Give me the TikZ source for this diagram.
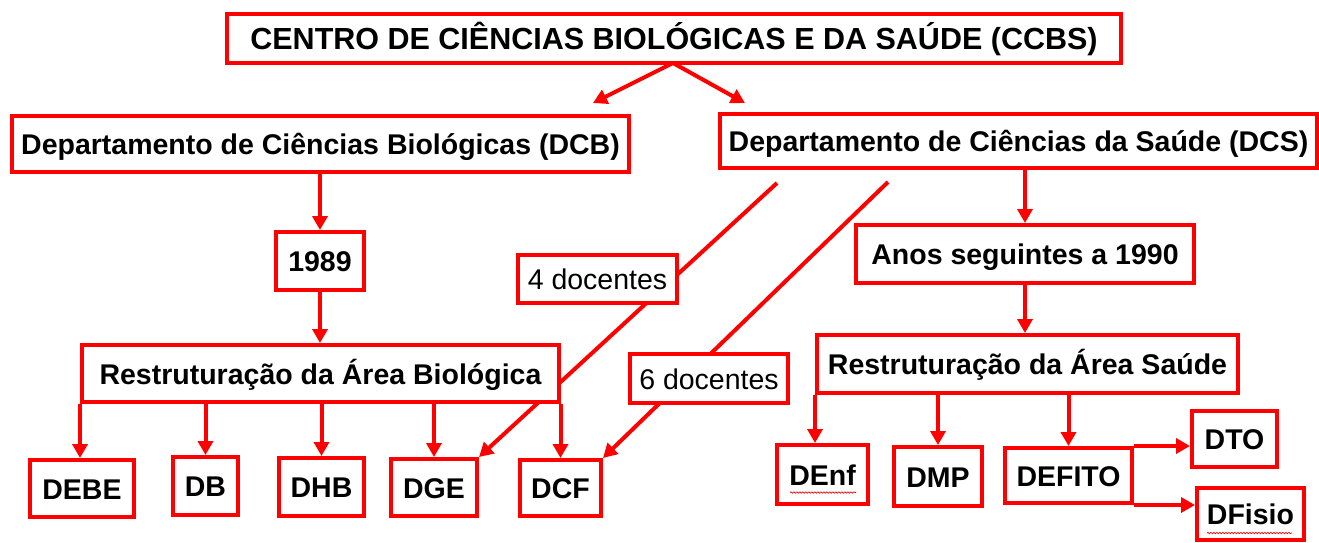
\documentclass[tikz,border=0pt]{standalone}
\usepackage{fontspec}
\setmainfont{Liberation Sans}
\usetikzlibrary{arrows.meta,decorations.pathmorphing}
\pgfdeclarelayer{bg}
\pgfsetlayers{bg,main}
\begin{document}
\begin{tikzpicture}[x=1pt,y=-1pt,
 box/.style={draw=red, line width=4pt, fill=white, inner sep=0pt,
   text height=25pt, text depth=4pt, font=\bfseries\fontsize{28.5}{32}\selectfont},
 titlebox/.style={box, text height=27pt, text depth=5pt, font=\bfseries\fontsize{30.5}{34}\selectfont},
 plainbox/.style={box, font=\fontsize{28.5}{32}\selectfont},
 link/.style={draw=red, line width=4pt, -{Triangle[length=14pt,width=15pt]}},
 squig/.style={draw=red, line width=0.7pt, decorate,
   decoration={snake, amplitude=0.7pt, segment length=3pt}}
]
\useasboundingbox (0,0) rectangle (1319,542);
% top
\node[titlebox, minimum width=894pt, minimum height=49pt] (T) at (674,38.5)
  {CENTRO DE CIÊNCIAS BIOLÓGICAS E DA SAÚDE (CCBS)};
\node[box, minimum width=617pt, minimum height=56pt] (DCB) at (320.5,144)
  {Departamento de Ciências Biológicas (DCB)};
\node[box, minimum width=597pt, minimum height=54pt] (DCS) at (1018.5,141)
  {Departamento de Ciências da Saúde (DCS)};
% biological branch
\node[box, minimum width=88pt, minimum height=58pt] (Y89) at (320,261) {1989};
\node[box, minimum width=477pt, minimum height=57pt] (RB) at (320.5,373.5)
  {Restruturação da Área Biológica};
\node[box, minimum width=104pt, minimum height=57pt] (DEBE) at (82,488.5) {DEBE};
\node[box, minimum width=65pt, minimum height=58pt] (DB) at (205.5,486) {DB};
\node[box, minimum width=85pt, minimum height=58pt] (DHB) at (321.5,487) {DHB};
\node[box, minimum width=86pt, minimum height=57pt] (DGE) at (434,487.5) {DGE};
\node[box, minimum width=81pt, minimum height=56pt] (DCF) at (560.5,488) {DCF};
% transfers
\node[plainbox, minimum width=159pt, minimum height=48pt] (D4) at (597.5,279) {4 docentes};
\node[plainbox, minimum width=158pt, minimum height=49pt] (D6) at (709,378.5) {6 docentes};
% health branch
\node[box, minimum width=338pt, minimum height=58pt] (ANOS) at (1025,254)
  {Anos seguintes a 1990};
\node[box, minimum width=421pt, minimum height=58pt] (RS) at (1027.5,364)
  {Restruturação da Área Saúde};
\node[box, minimum width=91pt, minimum height=59pt] (DEnf) at (822.5,474.5) {DEnf};
\node[box, minimum width=88pt, minimum height=59pt] (DMP) at (938,476.5) {DMP};
\node[box, minimum width=127pt, minimum height=55pt] (DEFITO) at (1068.5,475.5) {DEFITO};
\node[box, minimum width=85pt, minimum height=56pt] (DTO) at (1234.5,439) {DTO};
\node[box, minimum width=107pt, minimum height=52pt] (DFisio) at (1250.5,514) {DFisio};

% diagonal transfer lines (behind boxes)
\begin{pgfonlayer}{bg}
\coordinate (s4) at (777,183);
\coordinate (s6) at (888,182);
\draw[link] (s4) -- (DGE.north east);
\draw[link] (s6) -- (DCF.north east);
\end{pgfonlayer}

% connectors
\coordinate (tsplit) at (673,63);
\coordinate (tl) at (593,103);
\coordinate (tr) at (745,103);
\draw[link] (tsplit) -- (tl);
\draw[link] (tsplit) -- (tr);
\draw[link] (Y89.north |- DCB.south) -- (Y89.north);
\draw[link] (Y89.south) -- (Y89.south |- RB.north);
\draw[link] (RB.south west) -- (RB.south west |- DEBE.north);
\draw[link] (DB.north |- RB.south) -- (DB.north);
\draw[link] (DHB.north |- RB.south) -- (DHB.north);
\draw[link] (DGE.north |- RB.south) -- (DGE.north);
\draw[link] (DCF.north |- RB.south) -- (DCF.north);
\draw[link] (ANOS.north |- DCS.south) -- (ANOS.north);
\draw[link] (ANOS.south) -- (ANOS.south |- RS.north);
\draw[link] (RS.south west) -- (RS.south west |- DEnf.north);
\draw[link] (DMP.north |- RS.south) -- (DMP.north);
\draw[link] (DEFITO.north |- RS.south) -- (DEFITO.north);
\draw[link] (DEFITO.north east) -- (DTO.west |- DEFITO.north east);
\draw[link] (DEFITO.south east) -- (DFisio.west |- DEFITO.south east);

% spell-check underlines
\draw[squig] ([xshift=-32.5pt,yshift=-18pt]DEnf.center) -- ([xshift=33.5pt,yshift=-18pt]DEnf.center);
\draw[squig] ([xshift=-43.5pt,yshift=-19pt]DFisio.center) -- ([xshift=41.5pt,yshift=-19pt]DFisio.center);
\end{tikzpicture}
\end{document}
